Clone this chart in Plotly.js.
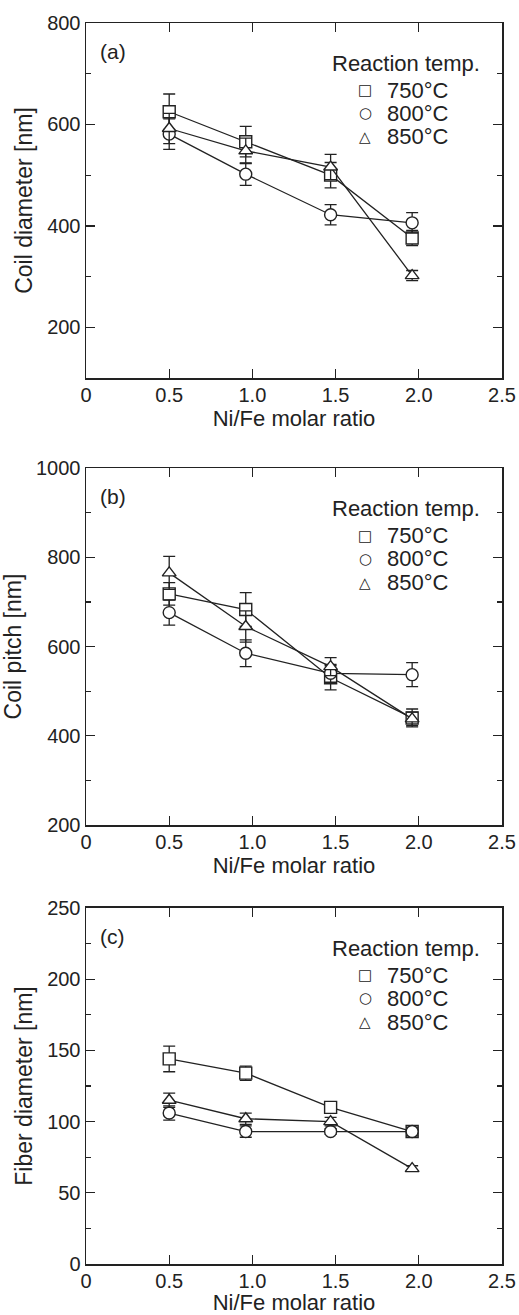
<!DOCTYPE html>
<html><head><meta charset="utf-8">
<script src="https://cdn.plot.ly/plotly-3.0.1.min.js"></script>
<style>html,body{margin:0;padding:0;background:#fff;}#chart{width:519px;height:1315px;}</style>
</head><body><div id="chart"></div>
<script>
// ---- data ----
const nifeRatio = [0.5, 0.96, 1.47, 1.96];
const tempLabels = ['750°C', '800°C', '850°C'];
const legendHeading = 'Reaction temp.';
const panelLabels = ['(a)', '(b)', '(c)'];
const yTitles = ['Coil diameter [nm]', 'Coil pitch [nm]', 'Fiber diameter [nm]'];
const xTitle = 'Ni/Fe molar ratio';
const xTickVals = [0, 0.5, 1, 1.5, 2, 2.5];
const xTickText = ['0', '0.5', '1.0', '1.5', '2.0', '2.5'];

const coilDiam750 = [625, 566, 500, 376];
const coilDiam750Err = [35, 30, 25, 15];
const coilDiam800 = [581, 502, 422, 406];
const coilDiam800Err = [30, 22, 20, 20];
const coilDiam850 = [592, 548, 516, 302];
const coilDiam850Err = [30, 25, 25, 10];

const coilPitch750 = [718, 683, 530, 440];
const coilPitch750Err = [25, 38, 27, 20];
const coilPitch800 = [676, 585, 540, 537];
const coilPitch800Err = [28, 30, 20, 27];
const coilPitch850 = [765, 645, 555, 438];
const coilPitch850Err = [37, 35, 20, 15];

const fiberDiam750 = [144, 134, 110, 93];
const fiberDiam750Err = [9, 5, 3, 4];
const fiberDiam800 = [106, 93, 93, 93];
const fiberDiam800Err = [5, 4, 2, 3];
const fiberDiam850 = [115, 102, 100, 67];
const fiberDiam850Err = [5, 4, 3, 2];

const yRanges = [[100, 800], [200, 1000], [0, 250]];
const yMajor = [200, 200, 50];
const yMinor = [100, 100, 25];

// ---- styling ----
const INK = '#222';
const FONT = 'Liberation Sans, Arial, Helvetica, sans-serif';
const symbols = ['square', 'circle', 'triangle-up'];
const glyphs = ['□', '○', '△'];

const panels = [
  [[coilDiam750, coilDiam750Err], [coilDiam800, coilDiam800Err], [coilDiam850, coilDiam850Err]],
  [[coilPitch750, coilPitch750Err], [coilPitch800, coilPitch800Err], [coilPitch850, coilPitch850Err]],
  [[fiberDiam750, fiberDiam750Err], [fiberDiam800, fiberDiam800Err], [fiberDiam850, fiberDiam850Err]]
];

const domains = [[0.7139, 1.0], [0.3537, 0.6414], [0.0, 0.2869]];
const xTitleStandoff = [5, 4, 1];

const traces = [];
panels.forEach((series, p) => {
  const sfx = p === 0 ? '' : String(p + 1);
  series.forEach(([vals, errs], t) => {
    traces.push({
      x: nifeRatio, y: vals, name: tempLabels[t],
      xaxis: 'x' + sfx, yaxis: 'y' + sfx,
      mode: 'lines+markers', showlegend: false, hoverinfo: 'skip',
      line: {color: INK, width: 1.3},
      marker: {symbol: symbols[t], size: 12, color: '#fff', line: {color: INK, width: 1.4}},
      error_y: {type: 'data', array: errs, visible: true, color: INK, thickness: 1.3, width: 6}
    });
  });
});

const layout = {
  width: 519, height: 1315,
  margin: {l: 86, r: 17, t: 23, b: 51},
  paper_bgcolor: '#fff', plot_bgcolor: '#fff',
  font: {family: FONT, color: INK},
  showlegend: false,
  annotations: []
};

panels.forEach((_, p) => {
  const sfx = p === 0 ? '' : String(p + 1);
  layout['xaxis' + sfx] = {
    domain: [0, 1], anchor: 'y' + sfx, range: [0, 2.5],
    tickmode: 'array', tickvals: xTickVals, ticktext: xTickText,
    ticks: 'inside', ticklen: 9, tickwidth: 1.3, tickcolor: INK, ticklabelstandoff: -2,
    showline: true, linecolor: INK, linewidth: 1.5, mirror: 'ticks',
    showgrid: false, zeroline: false,
    tickfont: {family: FONT, size: 20, color: INK},
    title: {text: xTitle, font: {family: FONT, size: 22, color: INK}, standoff: xTitleStandoff[p]}
  };
  layout['yaxis' + sfx] = {
    domain: domains[p], anchor: 'x' + sfx, range: yRanges[p],
    tickmode: 'linear', tick0: 0, dtick: yMajor[p],
    ticks: 'inside', ticklen: 9, tickwidth: 1.3, tickcolor: INK,
    minor: {ticks: 'inside', dtick: yMinor[p], tick0: 0, ticklen: 5, tickwidth: 1.3, tickcolor: INK, showgrid: false},
    showline: true, linecolor: INK, linewidth: 1.5, mirror: 'ticks',
    showgrid: false, zeroline: false,
    tickfont: {family: FONT, size: 20, color: INK},
    title: {text: yTitles[p], font: {family: FONT, size: 23, color: INK}, standoff: 8}
  };
  const xd = 'x' + sfx + ' domain', yd = 'y' + sfx + ' domain';
  layout.annotations.push({
    xref: xd, yref: yd, x: 0.03, y: 0.92, xanchor: 'left', yanchor: 'middle',
    text: panelLabels[p], showarrow: false, font: {family: FONT, size: 21, color: INK}
  });
  layout.annotations.push({
    xref: xd, yref: yd, x: 0.5865, y: 0.887, xanchor: 'left', yanchor: 'middle',
    text: legendHeading, showarrow: false, font: {family: FONT, size: 22, color: INK}
  });
  const rowsY = [0.811, 0.746, 0.679];
  tempLabels.forEach((lab, t) => {
    layout.annotations.push({
      xref: xd, yref: yd, x: 0.6707, y: rowsY[t], xanchor: 'center', yanchor: 'middle',
      text: glyphs[t], showarrow: false, font: {family: 'DejaVu Sans', size: 15, color: INK}
    });
    layout.annotations.push({
      xref: xd, yref: yd, x: 0.7188, y: rowsY[t], xanchor: 'left', yanchor: 'middle',
      text: lab, showarrow: false, font: {family: FONT, size: 22, color: INK}
    });
  });
});

Plotly.newPlot('chart', traces, layout, {staticPlot: true, displayModeBar: false});
</script></body></html>
